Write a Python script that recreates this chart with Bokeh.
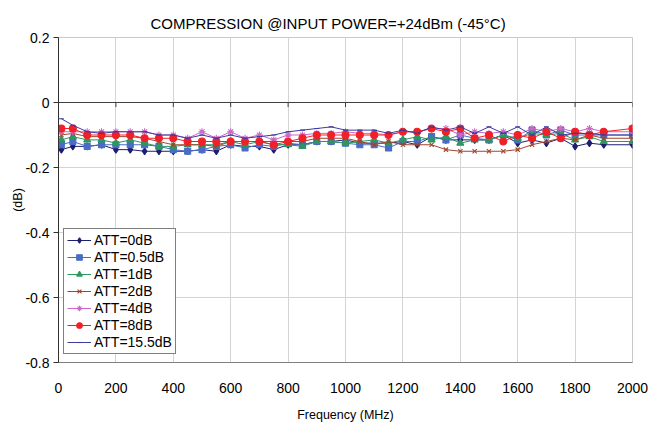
from bokeh.plotting import figure
from bokeh.models import Legend, LegendItem, Span, FixedTicker, CustomJSTickFormatter
from bokeh.embed import file_html
from bokeh.resources import INLINE

freq = [10, 50, 100, 150, 200, 250, 300, 350, 400, 450, 500, 550, 600, 650, 700, 750, 800, 850, 900, 950,
        1000, 1050, 1100, 1150, 1200, 1250, 1300, 1350, 1400, 1450, 1500, 1550, 1600, 1650, 1700, 1750, 1800, 1850, 1900,
        2000]

att_0 = [-0.145, -0.135, -0.135, -0.13, -0.145, -0.145, -0.15, -0.15, -0.15, -0.15, -0.145, -0.15, -0.13, -0.135, -0.135, -0.145, -0.13, -0.13, -0.12, -0.12,
         -0.115, -0.125, -0.125, -0.125, -0.12, -0.13, -0.105, -0.115, -0.115, -0.115, -0.115, -0.10, -0.125, -0.115, -0.125, -0.11, -0.135, -0.125, -0.13,
         -0.13]
att_05 = [-0.13, -0.12, -0.135, -0.13, -0.13, -0.13, -0.13, -0.135, -0.145, -0.15, -0.145, -0.135, -0.13, -0.14, -0.13, -0.135, -0.125, -0.13, -0.12, -0.12,
          -0.125, -0.13, -0.13, -0.14, -0.12, -0.12, -0.105, -0.115, -0.10, -0.11, -0.115, -0.10, -0.115, -0.085, -0.10, -0.085, -0.10, -0.10, -0.10,
          -0.10]
att_1 = [-0.115, -0.105, -0.115, -0.115, -0.125, -0.115, -0.125, -0.135, -0.135, -0.13, -0.13, -0.13, -0.12, -0.13, -0.12, -0.13, -0.13, -0.135, -0.12, -0.12,
         -0.125, -0.12, -0.115, -0.125, -0.115, -0.105, -0.115, -0.105, -0.125, -0.115, -0.115, -0.10, -0.11, -0.095, -0.10, -0.095, -0.115, -0.105, -0.12,
         -0.12]
att_2 = [-0.10, -0.095, -0.105, -0.105, -0.105, -0.105, -0.11, -0.12, -0.13, -0.13, -0.13, -0.135, -0.12, -0.12, -0.12, -0.12, -0.12, -0.12, -0.11, -0.11,
         -0.11, -0.12, -0.13, -0.12, -0.13, -0.13, -0.13, -0.145, -0.15, -0.15, -0.15, -0.15, -0.145, -0.13, -0.12, -0.11, -0.115, -0.10, -0.11,
         -0.11]
att_4 = [-0.09, -0.09, -0.09, -0.09, -0.09, -0.09, -0.09, -0.10, -0.10, -0.11, -0.09, -0.11, -0.09, -0.11, -0.10, -0.115, -0.10, -0.10, -0.095, -0.095,
         -0.09, -0.095, -0.095, -0.10, -0.09, -0.09, -0.08, -0.08, -0.10, -0.09, -0.095, -0.09, -0.10, -0.08, -0.09, -0.08, -0.09, -0.08, -0.09,
         -0.09]
att_8 = [-0.08, -0.08, -0.10, -0.10, -0.10, -0.10, -0.11, -0.11, -0.11, -0.12, -0.12, -0.12, -0.12, -0.12, -0.12, -0.13, -0.12, -0.11, -0.10, -0.10,
         -0.10, -0.10, -0.10, -0.10, -0.09, -0.09, -0.08, -0.09, -0.08, -0.11, -0.10, -0.12, -0.10, -0.11, -0.09, -0.11, -0.09, -0.10, -0.09,
         -0.08]
att_155 = [-0.05, -0.07, -0.09, -0.095, -0.09, -0.09, -0.09, -0.10, -0.10, -0.11, -0.10, -0.11, -0.10, -0.11, -0.105, -0.10, -0.09, -0.085, -0.08, -0.075,
           -0.085, -0.085, -0.085, -0.095, -0.085, -0.095, -0.075, -0.085, -0.075, -0.095, -0.075, -0.095, -0.075, -0.10, -0.075, -0.10, -0.095, -0.095, -0.10,
           -0.10]

series_names = ["ATT=0dB", "ATT=0.5dB", "ATT=1dB", "ATT=2dB", "ATT=4dB", "ATT=8dB", "ATT=15.5dB"]
series_values = [att_0, att_05, att_1, att_2, att_4, att_8, att_155]
series_colors = ["#1e1e70", "#4a6cc4", "#2e9660", "#a0452e", "#cc66c8", "#f02028", "#3c3ca0"]
series_markers = ["diamond", "square", "triangle", "x", "asterisk", "circle", "dash"]
series_sizes = [7, 6, 7, 6, 7, 7, 5]

x_ticks = [0, 200, 400, 600, 800, 1000, 1200, 1400, 1600, 1800, 2000]
y_ticks = [-0.8, -0.6, -0.4, -0.2, 0, 0.2]
y_tick_labels = ["-0.8", "-0.6", "-0.4", "-0.2", "0", "0.2"]

FONT = "Liberation Sans"

p = figure(width=661, height=426, x_range=(0, 2000), y_range=(-0.8, 0.2),
           output_backend="svg", toolbar_location=None,
           min_border_left=58, min_border_right=29, min_border_top=37, min_border_bottom=64)

p.title.text = "COMPRESSION @INPUT POWER=+24dBm (-45\u00b0C)"
p.title.text_font = FONT
p.title.text_font_size = "15px"
p.title.text_font_style = "normal"
p.title.text_color = "black"
p.title.align = "left"
p.title.offset = 92
p.title.standoff = 11

p.background_fill_color = "white"
p.border_fill_color = "white"
p.outline_line_color = "#c8c8c8"

p.xaxis.ticker = FixedTicker(ticks=x_ticks)
p.yaxis.ticker = FixedTicker(ticks=y_ticks)
p.yaxis.formatter = CustomJSTickFormatter(args=dict(ticks_list=y_ticks, labels=y_tick_labels), code="""
    for (let i = 0; i < ticks_list.length; i++) {
        if (Math.abs(ticks_list[i] - tick) < 1e-9) { return labels[i]; }
    }
    return '';
""")

for ax in (p.xaxis, p.yaxis):
    ax.major_label_text_font = FONT
    ax.major_label_text_font_size = "14px"
    ax.major_label_text_color = "black"
    ax.axis_label_text_font = FONT
    ax.axis_label_text_font_size = "12.5px"
    ax.axis_label_text_font_style = "normal"
    ax.axis_label_text_color = "black"
    ax.minor_tick_line_color = None

p.xaxis.axis_label = "Frequency (MHz)"
p.xaxis.axis_line_color = "#808080"
p.xaxis.major_tick_line_color = None
p.xaxis.major_label_standoff = 14
p.xaxis.axis_label_standoff = 12

p.yaxis.axis_label = "(dB)"
p.yaxis.axis_line_color = "#303030"
p.yaxis.major_tick_line_color = "#303030"
p.yaxis.major_tick_out = 5
p.yaxis.major_tick_in = 0
p.yaxis.major_label_standoff = 4
p.yaxis.axis_label_standoff = -3

p.xgrid.grid_line_color = "#d4d4d4"
p.ygrid.grid_line_color = "#d4d4d4"

zero_line = Span(location=0, dimension="width", line_color="#404040", line_width=1)
p.add_layout(zero_line)
p.segment(x0=x_ticks, y0=[0] * len(x_ticks), x1=x_ticks, y1=[-0.014] * len(x_ticks),
          line_color="#404040", line_width=1)

items = []
for name, vals, col, mk, sz in zip(series_names, series_values, series_colors, series_markers, series_sizes):
    r1 = p.line(freq, vals, line_color=col, line_width=1)
    r2 = p.scatter(freq, vals, marker=mk, size=sz, line_color=col, fill_color=col, line_width=1.1)
    items.append(LegendItem(label=name, renderers=[r1, r2]))

legend = Legend(items=items, location=(5, 8))
legend.border_line_color = "black"
legend.border_line_width = 1
legend.background_fill_color = "white"
legend.background_fill_alpha = 1
legend.label_text_font = FONT
legend.label_text_font_size = "14px"
legend.label_text_color = "black"
legend.glyph_width = 24
legend.glyph_height = 14
legend.label_height = 14
legend.spacing = 1
legend.padding = 3
legend.margin = 0
legend.label_standoff = 3
p.add_layout(legend, "center")

open("out.html", "w").write(file_html(p, INLINE))
